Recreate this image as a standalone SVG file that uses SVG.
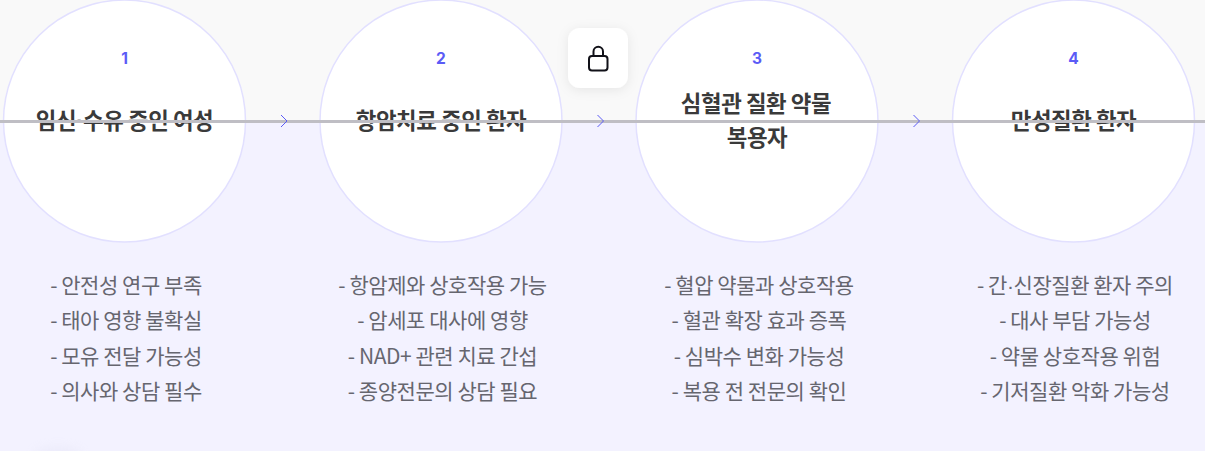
<svg xmlns="http://www.w3.org/2000/svg" width="1205" height="451" viewBox="0 0 1205 451">
<defs>
<filter id="sh" x="-50%" y="-50%" width="200%" height="200%"><feDropShadow dx="0" dy="2" stdDeviation="6" flood-color="#000" flood-opacity="0.08"/></filter>
<filter id="bl" x="-50%" y="-100%" width="200%" height="300%"><feGaussianBlur stdDeviation="6"/></filter>
</defs>
<style>
text{font-family:"Noto Sans CJK KR","Noto Sans",sans-serif;text-anchor:middle}
.c{fill:#fff;stroke:#e2e0ff;stroke-width:1.5}
.n{font-family:Inter,"Noto Sans",sans-serif;font-size:15.500px;font-weight:700;fill:#5b5bf6}
.t{font-size:22.400px;font-weight:600;fill:#3a3a3a;letter-spacing:-.45px}
.b{font-size:21px;fill:#66666f;letter-spacing:-.45px}
.d{font-family:"Liberation Sans",sans-serif}
.a{fill:none;stroke:#5b5bf6;stroke-width:1}
</style>
<rect width="1205" height="121" fill="#f9f9f9"/>
<rect y="121" width="1205" height="330" fill="#f3f2ff"/>
<ellipse cx="58" cy="456" rx="24" ry="8" fill="#dcdbef" filter="url(#bl)" opacity=".35"/>
<g id="node1"><circle class="c" cx="124.500" cy="121" r="121"/><text class="n" x="124.500" y="63.500">1</text><text class="t" x="124.500" y="129">임신<tspan class="d">·</tspan>수유 중인 여성</text>
<text class="b" x="126" y="292.500">- 안전성 연구 부족</text><text class="b" x="126" y="327.500">- 태아 영향 불확실</text><text class="b" x="126" y="363.500">- 모유 전달 가능성</text><text class="b" x="126" y="398.500">- 의사와 상담 필수</text></g>
<g id="node2"><circle class="c" cx="441" cy="121" r="121"/><text class="n" x="441" y="63.500">2</text><text class="t" x="441" y="129">항암치료 중인 환자</text>
<text class="b" x="442.500" y="292.500">- 항암제와 상호작용 가능</text><text class="b" x="442.500" y="327.500">- 암세포 대사에 영향</text><text class="b" x="442.500" y="363.500">- NAD+ 관련 치료 간섭</text><text class="b" x="442.500" y="398.500">- 종양전문의 상담 필요</text></g>
<g id="node3"><circle class="c" cx="757" cy="121" r="121"/><text class="n" x="757" y="63.500">3</text><text class="t" x="756" y="112">심혈관 질환 약물</text><text class="t" x="757" y="146">복용자</text>
<text class="b" x="759" y="292.500">- 혈압 약물과 상호작용</text><text class="b" x="759" y="327.500">- 혈관 확장 효과 증폭</text><text class="b" x="759" y="363.500">- 심박수 변화 가능성</text><text class="b" x="759" y="398.500">- 복용 전 전문의 확인</text></g>
<g id="node4"><circle class="c" cx="1073.500" cy="121" r="121"/><text class="n" x="1073.500" y="63.500">4</text><text class="t" x="1073.500" y="129">만성질환 환자</text>
<text class="b" x="1075" y="292.500"><tspan>- 간</tspan><tspan class="d">·</tspan><tspan>신장질환 환자 주의</tspan></text><text class="b" x="1075" y="327.500">- 대사 부담 가능성</text><text class="b" x="1075" y="363.500">- 약물 상호작용 위험</text><text class="b" x="1075" y="398.500">- 기저질환 악화 가능성</text></g>
<g id="lock"><rect x="568" y="28" width="60" height="60" rx="12" fill="#fff" filter="url(#sh)"/>
<path d="M593.500 57V51.500a4.750 4.750 0 0 1 9.500 0V57" fill="none" stroke="#111118" stroke-width="2"/><rect x="589" y="56" width="18.500" height="14.500" rx="3" fill="none" stroke="#111118" stroke-width="2"/></g>
<g id="connectors"><rect x="0" y="120" width="1205" height="3" fill="#bfbec4"/>
<path class="a" d="M281 115l6 6-6 6M597.500 115l6 6-6 6M913.500 115l6 6-6 6"/></g>
</svg>
